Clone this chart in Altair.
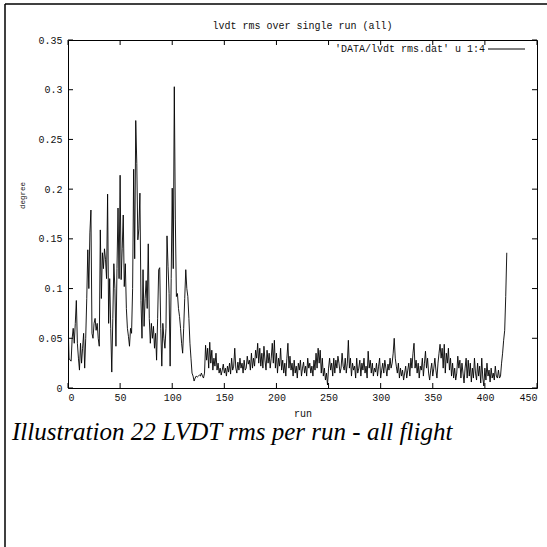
import altair as alt
import pandas as pd

# ---- data (rms per run, runs 0..421) ----
rms_early = [
    0.068, 0.030, 0.028, 0.027, 0.050, 0.060, 0.045, 0.065, 0.088, 0.045,
    0.030, 0.018, 0.045, 0.025, 0.040, 0.055, 0.020, 0.050, 0.090, 0.139,
    0.100, 0.156, 0.179, 0.055, 0.050, 0.065, 0.070, 0.058, 0.065, 0.050,
    0.042, 0.159, 0.090, 0.136, 0.120, 0.140, 0.129, 0.110, 0.195, 0.065,
    0.110, 0.060, 0.016, 0.070, 0.125, 0.100, 0.042, 0.120, 0.181, 0.110,
    0.214, 0.109, 0.140, 0.174, 0.102, 0.125, 0.080, 0.060, 0.052, 0.042,
    0.060, 0.055, 0.100, 0.220, 0.130, 0.269, 0.226, 0.149, 0.160, 0.196,
    0.088, 0.050, 0.119, 0.062, 0.090, 0.108, 0.080, 0.145, 0.070, 0.045,
    0.065, 0.050, 0.062, 0.040, 0.055, 0.028, 0.070, 0.119, 0.121, 0.060,
    0.022, 0.065, 0.050, 0.040, 0.060, 0.153, 0.122, 0.095, 0.022, 0.110,
    0.201, 0.120, 0.303, 0.169, 0.092, 0.095, 0.080, 0.072, 0.060, 0.045,
    0.035, 0.060, 0.090, 0.119, 0.100, 0.092, 0.070, 0.045, 0.030, 0.015,
    0.012, 0.007, 0.010, 0.012, 0.011, 0.012, 0.013, 0.012, 0.015, 0.012,
]
rms_mid = [
    0.010, 0.015, 0.043, 0.028, 0.040, 0.020, 0.046, 0.025, 0.038, 0.018,
    0.030, 0.022, 0.035, 0.018, 0.025, 0.015, 0.020, 0.013, 0.018, 0.024,
    0.015, 0.020, 0.012, 0.022, 0.016, 0.025, 0.014, 0.030, 0.018, 0.022,
    0.040, 0.020, 0.015, 0.026, 0.018, 0.030, 0.020, 0.025, 0.015, 0.028,
    0.018, 0.020, 0.032, 0.024, 0.028, 0.018, 0.035, 0.020, 0.030, 0.022,
    0.038, 0.030, 0.045, 0.025, 0.040, 0.022, 0.035, 0.020, 0.042, 0.028,
    0.018, 0.038, 0.025, 0.035, 0.020, 0.030, 0.045, 0.025, 0.048, 0.020,
    0.035, 0.015, 0.030, 0.022, 0.040, 0.018, 0.028, 0.015, 0.025, 0.012,
    0.030, 0.045, 0.020, 0.032, 0.018, 0.025, 0.012, 0.028, 0.015, 0.022,
    0.010, 0.025, 0.018, 0.028, 0.012, 0.020, 0.026, 0.015, 0.022, 0.012,
    0.030, 0.020, 0.025, 0.015, 0.022, 0.012, 0.028, 0.018, 0.035, 0.020,
    0.040, 0.025, 0.038, 0.015, 0.030, 0.012, 0.020, 0.008, 0.015, 0.003,
    0.020, 0.030, 0.018, 0.025, 0.012, 0.030, 0.015, 0.028, 0.020, 0.032,
    0.025, 0.015, 0.020, 0.035, 0.022, 0.018, 0.030, 0.015, 0.025, 0.048,
    0.020, 0.030, 0.012, 0.025, 0.018, 0.022, 0.010, 0.030, 0.015, 0.020,
    0.028, 0.012, 0.025, 0.018, 0.030, 0.015, 0.022, 0.010, 0.037, 0.020,
    0.028, 0.015, 0.025, 0.012, 0.020, 0.016, 0.025, 0.012, 0.022, 0.030,
]
rms_late = [
    0.010, 0.018, 0.025, 0.015, 0.028, 0.020, 0.012, 0.024, 0.018, 0.030,
    0.020, 0.025, 0.035, 0.050, 0.030, 0.022, 0.015, 0.025, 0.010, 0.020,
    0.012, 0.018, 0.008, 0.015, 0.022, 0.010, 0.018, 0.025, 0.012, 0.030,
    0.020, 0.035, 0.045, 0.020, 0.028, 0.015, 0.025, 0.010, 0.022, 0.018,
    0.030, 0.012, 0.025, 0.037, 0.020, 0.030, 0.015, 0.008, 0.018, 0.025,
    0.012, 0.020, 0.030, 0.018, 0.010, 0.025, 0.035, 0.044, 0.030, 0.040,
    0.020, 0.044, 0.015, 0.035, 0.025, 0.040, 0.018, 0.030, 0.012, 0.025,
    0.010, 0.020, 0.008, 0.015, 0.032, 0.020, 0.028, 0.010, 0.025, 0.015,
    0.005, 0.020, 0.030, 0.010, 0.028, 0.012, 0.025, 0.006, 0.020, 0.010,
    0.030, 0.015, 0.008, 0.025, 0.012, 0.022, 0.005, 0.030, 0.010, 0.002,
    0.020, 0.008, 0.025, 0.012, 0.018, 0.006, 0.020, 0.010, 0.015, 0.008,
    0.022, 0.012, 0.010, 0.018, 0.010, 0.012, 0.025, 0.035, 0.048, 0.058,
    0.092, 0.136,
]
x_ticks = [0, 50, 100, 150, 200, 250, 300, 350, 400, 450]
y_ticks = [0, 0.05, 0.1, 0.15, 0.2, 0.25, 0.3, 0.35]

title_text = "lvdt rms over single run (all)"
legend_text = "'DATA/lvdt rms.dat' u 1:4"
caption_text = "Illustration 22 LVDT rms per run - all flight"
x_title = "run"
y_title = "degree"

# ---- layout ----
W, H = 469, 348
TL = 5  # tick length
FONT = "Liberation Mono"
FS = 10

rms = rms_early + rms_mid + rms_late
df = pd.DataFrame({"run": list(range(len(rms))), "rms": rms})

xs = alt.Scale(domain=[0, 450], nice=False, zero=False)
ys = alt.Scale(domain=[0, 0.35], nice=False)

x_axis = alt.Axis(
    values=x_ticks, ticks=False, domain=False, grid=False,
    labelFont=FONT, labelFontSize=FS, labelColor="#111", labelPadding=4,
    title=x_title, titleFont=FONT, titleFontSize=FS, titleFontWeight="normal",
    titleColor="#111", titleY=25, titleBaseline="middle")
y_axis = alt.Axis(
    values=y_ticks, format="~g", ticks=False, domain=False, grid=False,
    labelFont=FONT, labelFontSize=FS, labelColor="#111", labelPadding=6,
    title=y_title, titleFont=FONT, titleFontSize=7.5, titleFontWeight="normal",
    titleColor="#111", titleX=-46, titleY=155, titleAngle=270,
    titleAlign="center", titleBaseline="middle")

line = alt.Chart(df).mark_line(color="black", strokeWidth=0.9, clip=True).encode(
    x=alt.X("run:Q", scale=xs, axis=x_axis),
    y=alt.Y("rms:Q", scale=ys, axis=y_axis),
)

xt = pd.DataFrame({"run": x_ticks})
yt = pd.DataFrame({"rms": y_ticks})
xtick_b = alt.Chart(xt).mark_rule(color="black", strokeWidth=1).encode(
    x=alt.X("run:Q", scale=xs, axis=x_axis), y=alt.value(H), y2=alt.value(H - TL))
xtick_t = alt.Chart(xt).mark_rule(color="black", strokeWidth=1).encode(
    x=alt.X("run:Q", scale=xs, axis=x_axis), y=alt.value(0), y2=alt.value(TL))
ytick_l = alt.Chart(yt).mark_rule(color="black", strokeWidth=1).encode(
    y=alt.Y("rms:Q", scale=ys, axis=y_axis), x=alt.value(0), x2=alt.value(TL))
ytick_r = alt.Chart(yt).mark_rule(color="black", strokeWidth=1).encode(
    y=alt.Y("rms:Q", scale=ys, axis=y_axis), x=alt.value(W), x2=alt.value(W - TL))

one = pd.DataFrame({"title": [title_text], "legend": [legend_text], "caption": [caption_text]})

title_mark = alt.Chart(one).mark_text(font=FONT, fontSize=FS, color="#111",
                                      align="center", baseline="middle").encode(
    x=alt.value(W / 2), y=alt.value(-14), text="title:N")
legend_mark = alt.Chart(one).mark_text(font=FONT, fontSize=FS, color="#111",
                                       align="right", baseline="middle").encode(
    x=alt.value(417), y=alt.value(9), text="legend:N")
legend_line = alt.Chart(one).mark_rule(color="black", strokeWidth=1).encode(
    x=alt.value(420), x2=alt.value(457), y=alt.value(9))
caption_mark = alt.Chart(one).mark_text(font="Liberation Serif", fontSize=25,
                                        fontStyle="italic", color="black",
                                        align="left", baseline="alphabetic").encode(
    x=alt.value(-56), y=alt.value(400), text="caption:N")
frame_top = alt.Chart(one).mark_rule(color="black", strokeWidth=1.5).encode(
    x=alt.value(-63), x2=alt.value(490), y=alt.value(-36))
frame_left = alt.Chart(one).mark_rule(color="black", strokeWidth=1.5).encode(
    x=alt.value(-63), y=alt.value(-36), y2=alt.value(520))

chart = alt.layer(
    line, xtick_b, xtick_t, ytick_l, ytick_r,
    title_mark, legend_mark, legend_line, caption_mark, frame_top, frame_left,
).properties(
    width=W, height=H,
    autosize=alt.AutoSizeParams(type="none"),
    padding={"left": 68, "top": 40, "right": 10, "bottom": 159},
    background="white",
).configure_view(stroke="black", strokeWidth=1)

chart.save("out.html", embed_options={"renderer": "svg", "actions": False})
